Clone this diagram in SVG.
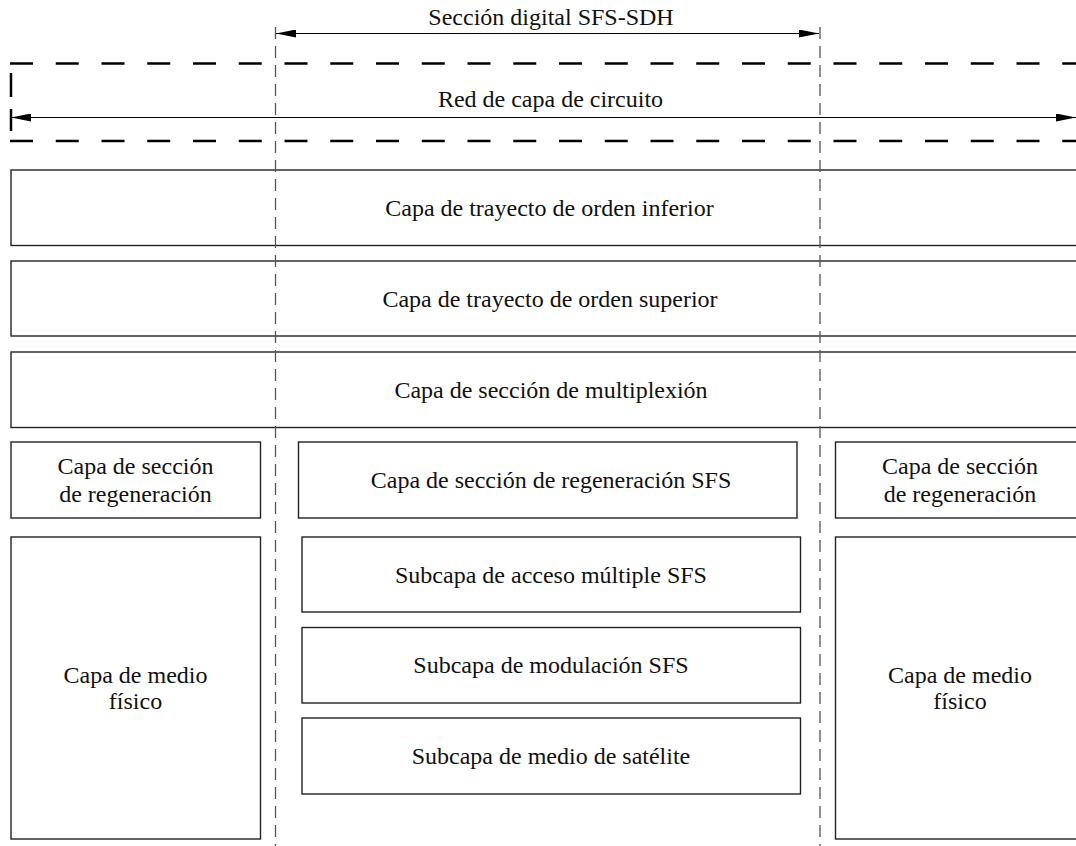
<svg xmlns="http://www.w3.org/2000/svg" width="1076" height="846" viewBox="0 0 1076 846">
  <style>
    .box { fill: none; stroke: #222; stroke-width: 1.4; }
    .lbl { font-family: "Liberation Serif", "Times New Roman", serif; font-size: 24px; fill: #111; text-anchor: middle; }
    .bound { stroke: #555; stroke-width: 1.3; stroke-dasharray: 12 7; fill: none; }
    .layer { stroke: #000; stroke-width: 2.5; stroke-dasharray: 23 22.75; fill: none; }
    .dim { stroke: #000; stroke-width: 1; fill: none; }
  </style>
  <defs>
    <marker id="arrow" viewBox="0 0 20 8" refX="20" refY="4" markerWidth="20" markerHeight="8" markerUnits="userSpaceOnUse" orient="auto-start-reverse">
      <path d="M0,0 L20,4 L0,8 Z" fill="#000"/>
    </marker>
  </defs>
  <rect width="1076" height="846" fill="#fff"/>

  <g id="label-section">
    <text class="lbl" x="551" y="25">Sección digital SFS-SDH</text>
  </g>
  <g id="label-circuit">
    <text class="lbl" x="550.5" y="107">Red de capa de circuito</text>
  </g>

  <g id="lower-order-path">
    <rect class="box" x="11" y="170" width="1080" height="75.5"/>
    <text class="lbl" x="549.5" y="216">Capa de trayecto de orden inferior</text>
  </g>
  <g id="higher-order-path">
    <rect class="box" x="11" y="261" width="1080" height="75"/>
    <text class="lbl" x="550" y="307">Capa de trayecto de orden superior</text>
  </g>
  <g id="multiplex-section">
    <rect class="box" x="11" y="352" width="1080" height="75.5"/>
    <text class="lbl" x="551" y="398">Capa de sección de multiplexión</text>
  </g>

  <g id="regen-left">
    <rect class="box" x="11" y="442" width="249.5" height="76"/>
    <text class="lbl" x="135.5" y="474">Capa de sección</text>
    <text class="lbl" x="135.5" y="502">de regeneración</text>
  </g>
  <g id="regen-sfs">
    <rect class="box" x="298.5" y="442" width="498.5" height="76"/>
    <text class="lbl" x="551" y="488">Capa de sección de regeneración SFS</text>
  </g>
  <g id="regen-right">
    <rect class="box" x="835.5" y="442" width="260" height="76"/>
    <text class="lbl" x="960" y="474">Capa de sección</text>
    <text class="lbl" x="960" y="502">de regeneración</text>
  </g>

  <g id="physical-left">
    <rect class="box" x="11" y="537" width="249.5" height="302"/>
    <text class="lbl" x="135.5" y="683">Capa de medio</text>
    <text class="lbl" x="135.5" y="709">físico</text>
  </g>
  <g id="multiple-access">
    <rect class="box" x="302" y="537" width="498.5" height="75"/>
    <text class="lbl" x="551" y="583">Subcapa de acceso múltiple SFS</text>
  </g>
  <g id="modulation">
    <rect class="box" x="302" y="627.5" width="498.5" height="75.5"/>
    <text class="lbl" x="551" y="673">Subcapa de modulación SFS</text>
  </g>
  <g id="satellite-medium">
    <rect class="box" x="302" y="718" width="498.5" height="76"/>
    <text class="lbl" x="551" y="764">Subcapa de medio de satélite</text>
  </g>
  <g id="physical-right">
    <rect class="box" x="835.5" y="537" width="260" height="302"/>
    <text class="lbl" x="960" y="683">Capa de medio</text>
    <text class="lbl" x="960" y="709">físico</text>
  </g>

  <!-- section boundaries and dimension lines, drawn over the layer boxes -->
  <g id="connectors">
    <line class="bound" x1="275.5" y1="27" x2="275.5" y2="846"/>
    <line class="bound" x1="820" y1="27" x2="820" y2="846"/>
    <line class="dim" x1="276" y1="33.5" x2="819" y2="33.5" stroke="#444" marker-start="url(#arrow)" marker-end="url(#arrow)"/>
    <line class="layer" x1="10" y1="63.5" x2="1076" y2="63.5"/>
    <line class="layer" x1="10" y1="141" x2="1076" y2="141"/>
    <line x1="11" y1="73" x2="11" y2="97" stroke="#000" stroke-width="2.5"/>
    <line x1="11" y1="109" x2="11" y2="131" stroke="#000" stroke-width="2.5"/>
    <line class="dim" x1="11" y1="117.5" x2="1076" y2="117.5" marker-start="url(#arrow)" marker-end="url(#arrow)"/>
  </g>
</svg>
